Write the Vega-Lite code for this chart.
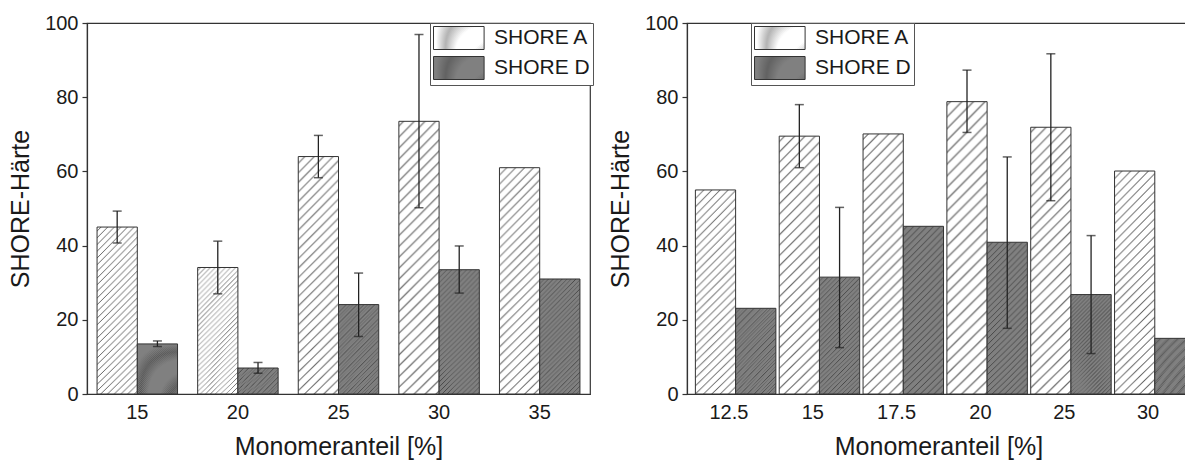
{
  "$schema": "https://vega.github.io/schema/vega-lite/v6.json",
  "padding": {"left": 8, "top": 12, "right": 0, "bottom": 0},
  "background": "white",
  "params": [
    {"name": "gA", "value": {"gradient": "radial", "x1": -20, "y1": -20, "r1": 28.284, "x2": -20, "y2": -20, "r2": 29.698, "stops": [
          {"offset": 0, "color": "#fff"}, {"offset": 0.003, "color": "#666"}, {"offset": 0.006, "color": "#fff"},
          {"offset": 0.02, "color": "#fff"}, {"offset": 0.023, "color": "#666"}, {"offset": 0.026, "color": "#fff"},
          {"offset": 0.04, "color": "#fff"}, {"offset": 0.043, "color": "#666"}, {"offset": 0.046, "color": "#fff"},
          {"offset": 0.06, "color": "#fff"}, {"offset": 0.063, "color": "#666"}, {"offset": 0.066, "color": "#fff"},
          {"offset": 0.08, "color": "#fff"}, {"offset": 0.083, "color": "#666"}, {"offset": 0.086, "color": "#fff"},
          {"offset": 0.1, "color": "#fff"}, {"offset": 0.103, "color": "#666"}, {"offset": 0.106, "color": "#fff"},
          {"offset": 0.12, "color": "#fff"}, {"offset": 0.123, "color": "#666"}, {"offset": 0.126, "color": "#fff"},
          {"offset": 0.14, "color": "#fff"}, {"offset": 0.143, "color": "#666"}, {"offset": 0.146, "color": "#fff"},
          {"offset": 0.16, "color": "#fff"}, {"offset": 0.163, "color": "#666"}, {"offset": 0.166, "color": "#fff"},
          {"offset": 0.18, "color": "#fff"}, {"offset": 0.183, "color": "#666"}, {"offset": 0.186, "color": "#fff"},
          {"offset": 0.2, "color": "#fff"}, {"offset": 0.203, "color": "#666"}, {"offset": 0.206, "color": "#fff"},
          {"offset": 0.22, "color": "#fff"}, {"offset": 0.223, "color": "#666"}, {"offset": 0.226, "color": "#fff"},
          {"offset": 0.24, "color": "#fff"}, {"offset": 0.243, "color": "#666"}, {"offset": 0.246, "color": "#fff"},
          {"offset": 0.26, "color": "#fff"}, {"offset": 0.263, "color": "#666"}, {"offset": 0.266, "color": "#fff"},
          {"offset": 0.28, "color": "#fff"}, {"offset": 0.283, "color": "#666"}, {"offset": 0.286, "color": "#fff"},
          {"offset": 0.3, "color": "#fff"}, {"offset": 0.303, "color": "#666"}, {"offset": 0.306, "color": "#fff"},
          {"offset": 0.32, "color": "#fff"}, {"offset": 0.323, "color": "#666"}, {"offset": 0.326, "color": "#fff"},
          {"offset": 0.34, "color": "#fff"}, {"offset": 0.343, "color": "#666"}, {"offset": 0.346, "color": "#fff"},
          {"offset": 0.36, "color": "#fff"}, {"offset": 0.363, "color": "#666"}, {"offset": 0.366, "color": "#fff"},
          {"offset": 0.38, "color": "#fff"}, {"offset": 0.383, "color": "#666"}, {"offset": 0.386, "color": "#fff"},
          {"offset": 0.4, "color": "#fff"}, {"offset": 0.403, "color": "#666"}, {"offset": 0.406, "color": "#fff"},
          {"offset": 0.42, "color": "#fff"}, {"offset": 0.423, "color": "#666"}, {"offset": 0.426, "color": "#fff"},
          {"offset": 0.44, "color": "#fff"}, {"offset": 0.443, "color": "#666"}, {"offset": 0.446, "color": "#fff"},
          {"offset": 0.46, "color": "#fff"}, {"offset": 0.463, "color": "#666"}, {"offset": 0.466, "color": "#fff"},
          {"offset": 0.48, "color": "#fff"}, {"offset": 0.483, "color": "#666"}, {"offset": 0.486, "color": "#fff"},
          {"offset": 0.5, "color": "#fff"}, {"offset": 0.503, "color": "#666"}, {"offset": 0.506, "color": "#fff"},
          {"offset": 0.52, "color": "#fff"}, {"offset": 0.523, "color": "#666"}, {"offset": 0.526, "color": "#fff"},
          {"offset": 0.54, "color": "#fff"}, {"offset": 0.543, "color": "#666"}, {"offset": 0.546, "color": "#fff"},
          {"offset": 0.56, "color": "#fff"}, {"offset": 0.563, "color": "#666"}, {"offset": 0.566, "color": "#fff"},
          {"offset": 0.58, "color": "#fff"}, {"offset": 0.583, "color": "#666"}, {"offset": 0.586, "color": "#fff"},
          {"offset": 0.6, "color": "#fff"}, {"offset": 0.603, "color": "#666"}, {"offset": 0.606, "color": "#fff"},
          {"offset": 0.62, "color": "#fff"}, {"offset": 0.623, "color": "#666"}, {"offset": 0.626, "color": "#fff"},
          {"offset": 0.64, "color": "#fff"}, {"offset": 0.643, "color": "#666"}, {"offset": 0.646, "color": "#fff"},
          {"offset": 0.66, "color": "#fff"}, {"offset": 0.663, "color": "#666"}, {"offset": 0.666, "color": "#fff"},
          {"offset": 0.68, "color": "#fff"}, {"offset": 0.683, "color": "#666"}, {"offset": 0.686, "color": "#fff"},
          {"offset": 0.7, "color": "#fff"}, {"offset": 0.703, "color": "#666"}, {"offset": 0.706, "color": "#fff"},
          {"offset": 0.72, "color": "#fff"}, {"offset": 0.723, "color": "#666"}, {"offset": 0.726, "color": "#fff"},
          {"offset": 0.74, "color": "#fff"}, {"offset": 0.743, "color": "#666"}, {"offset": 0.746, "color": "#fff"},
          {"offset": 0.76, "color": "#fff"}, {"offset": 0.763, "color": "#666"}, {"offset": 0.766, "color": "#fff"},
          {"offset": 0.78, "color": "#fff"}, {"offset": 0.783, "color": "#666"}, {"offset": 0.786, "color": "#fff"},
          {"offset": 0.8, "color": "#fff"}, {"offset": 0.803, "color": "#666"}, {"offset": 0.806, "color": "#fff"},
          {"offset": 0.82, "color": "#fff"}, {"offset": 0.823, "color": "#666"}, {"offset": 0.826, "color": "#fff"},
          {"offset": 0.84, "color": "#fff"}, {"offset": 0.843, "color": "#666"}, {"offset": 0.846, "color": "#fff"},
          {"offset": 0.86, "color": "#fff"}, {"offset": 0.863, "color": "#666"}, {"offset": 0.866, "color": "#fff"},
          {"offset": 0.88, "color": "#fff"}, {"offset": 0.883, "color": "#666"}, {"offset": 0.886, "color": "#fff"},
          {"offset": 0.9, "color": "#fff"}, {"offset": 0.903, "color": "#666"}, {"offset": 0.906, "color": "#fff"},
          {"offset": 0.92, "color": "#fff"}, {"offset": 0.923, "color": "#666"}, {"offset": 0.926, "color": "#fff"},
          {"offset": 0.94, "color": "#fff"}, {"offset": 0.943, "color": "#666"}, {"offset": 0.946, "color": "#fff"},
          {"offset": 0.96, "color": "#fff"}, {"offset": 0.963, "color": "#666"}, {"offset": 0.966, "color": "#fff"},
          {"offset": 0.98, "color": "#fff"}, {"offset": 0.983, "color": "#666"}, {"offset": 0.986, "color": "#fff"},
          {"offset": 1, "color": "#fff"}
        ]}},
    {"name": "gD", "value": {"gradient": "radial", "x1": -20, "y1": -20, "r1": 28.284, "x2": -20, "y2": -20, "r2": 29.698, "stops": [
          {"offset": 0, "color": "#808080"}, {"offset": 0.003, "color": "#444"}, {"offset": 0.006, "color": "#808080"},
          {"offset": 0.02, "color": "#808080"}, {"offset": 0.023, "color": "#444"}, {"offset": 0.026, "color": "#808080"},
          {"offset": 0.04, "color": "#808080"}, {"offset": 0.043, "color": "#444"}, {"offset": 0.046, "color": "#808080"},
          {"offset": 0.06, "color": "#808080"}, {"offset": 0.063, "color": "#444"}, {"offset": 0.066, "color": "#808080"},
          {"offset": 0.08, "color": "#808080"}, {"offset": 0.083, "color": "#444"}, {"offset": 0.086, "color": "#808080"},
          {"offset": 0.1, "color": "#808080"}, {"offset": 0.103, "color": "#444"}, {"offset": 0.106, "color": "#808080"},
          {"offset": 0.12, "color": "#808080"}, {"offset": 0.123, "color": "#444"}, {"offset": 0.126, "color": "#808080"},
          {"offset": 0.14, "color": "#808080"}, {"offset": 0.143, "color": "#444"}, {"offset": 0.146, "color": "#808080"},
          {"offset": 0.16, "color": "#808080"}, {"offset": 0.163, "color": "#444"}, {"offset": 0.166, "color": "#808080"},
          {"offset": 0.18, "color": "#808080"}, {"offset": 0.183, "color": "#444"}, {"offset": 0.186, "color": "#808080"},
          {"offset": 0.2, "color": "#808080"}, {"offset": 0.203, "color": "#444"}, {"offset": 0.206, "color": "#808080"},
          {"offset": 0.22, "color": "#808080"}, {"offset": 0.223, "color": "#444"}, {"offset": 0.226, "color": "#808080"},
          {"offset": 0.24, "color": "#808080"}, {"offset": 0.243, "color": "#444"}, {"offset": 0.246, "color": "#808080"},
          {"offset": 0.26, "color": "#808080"}, {"offset": 0.263, "color": "#444"}, {"offset": 0.266, "color": "#808080"},
          {"offset": 0.28, "color": "#808080"}, {"offset": 0.283, "color": "#444"}, {"offset": 0.286, "color": "#808080"},
          {"offset": 0.3, "color": "#808080"}, {"offset": 0.303, "color": "#444"}, {"offset": 0.306, "color": "#808080"},
          {"offset": 0.32, "color": "#808080"}, {"offset": 0.323, "color": "#444"}, {"offset": 0.326, "color": "#808080"},
          {"offset": 0.34, "color": "#808080"}, {"offset": 0.343, "color": "#444"}, {"offset": 0.346, "color": "#808080"},
          {"offset": 0.36, "color": "#808080"}, {"offset": 0.363, "color": "#444"}, {"offset": 0.366, "color": "#808080"},
          {"offset": 0.38, "color": "#808080"}, {"offset": 0.383, "color": "#444"}, {"offset": 0.386, "color": "#808080"},
          {"offset": 0.4, "color": "#808080"}, {"offset": 0.403, "color": "#444"}, {"offset": 0.406, "color": "#808080"},
          {"offset": 0.42, "color": "#808080"}, {"offset": 0.423, "color": "#444"}, {"offset": 0.426, "color": "#808080"},
          {"offset": 0.44, "color": "#808080"}, {"offset": 0.443, "color": "#444"}, {"offset": 0.446, "color": "#808080"},
          {"offset": 0.46, "color": "#808080"}, {"offset": 0.463, "color": "#444"}, {"offset": 0.466, "color": "#808080"},
          {"offset": 0.48, "color": "#808080"}, {"offset": 0.483, "color": "#444"}, {"offset": 0.486, "color": "#808080"},
          {"offset": 0.5, "color": "#808080"}, {"offset": 0.503, "color": "#444"}, {"offset": 0.506, "color": "#808080"},
          {"offset": 0.52, "color": "#808080"}, {"offset": 0.523, "color": "#444"}, {"offset": 0.526, "color": "#808080"},
          {"offset": 0.54, "color": "#808080"}, {"offset": 0.543, "color": "#444"}, {"offset": 0.546, "color": "#808080"},
          {"offset": 0.56, "color": "#808080"}, {"offset": 0.563, "color": "#444"}, {"offset": 0.566, "color": "#808080"},
          {"offset": 0.58, "color": "#808080"}, {"offset": 0.583, "color": "#444"}, {"offset": 0.586, "color": "#808080"},
          {"offset": 0.6, "color": "#808080"}, {"offset": 0.603, "color": "#444"}, {"offset": 0.606, "color": "#808080"},
          {"offset": 0.62, "color": "#808080"}, {"offset": 0.623, "color": "#444"}, {"offset": 0.626, "color": "#808080"},
          {"offset": 0.64, "color": "#808080"}, {"offset": 0.643, "color": "#444"}, {"offset": 0.646, "color": "#808080"},
          {"offset": 0.66, "color": "#808080"}, {"offset": 0.663, "color": "#444"}, {"offset": 0.666, "color": "#808080"},
          {"offset": 0.68, "color": "#808080"}, {"offset": 0.683, "color": "#444"}, {"offset": 0.686, "color": "#808080"},
          {"offset": 0.7, "color": "#808080"}, {"offset": 0.703, "color": "#444"}, {"offset": 0.706, "color": "#808080"},
          {"offset": 0.72, "color": "#808080"}, {"offset": 0.723, "color": "#444"}, {"offset": 0.726, "color": "#808080"},
          {"offset": 0.74, "color": "#808080"}, {"offset": 0.743, "color": "#444"}, {"offset": 0.746, "color": "#808080"},
          {"offset": 0.76, "color": "#808080"}, {"offset": 0.763, "color": "#444"}, {"offset": 0.766, "color": "#808080"},
          {"offset": 0.78, "color": "#808080"}, {"offset": 0.783, "color": "#444"}, {"offset": 0.786, "color": "#808080"},
          {"offset": 0.8, "color": "#808080"}, {"offset": 0.803, "color": "#444"}, {"offset": 0.806, "color": "#808080"},
          {"offset": 0.82, "color": "#808080"}, {"offset": 0.823, "color": "#444"}, {"offset": 0.826, "color": "#808080"},
          {"offset": 0.84, "color": "#808080"}, {"offset": 0.843, "color": "#444"}, {"offset": 0.846, "color": "#808080"},
          {"offset": 0.86, "color": "#808080"}, {"offset": 0.863, "color": "#444"}, {"offset": 0.866, "color": "#808080"},
          {"offset": 0.88, "color": "#808080"}, {"offset": 0.883, "color": "#444"}, {"offset": 0.886, "color": "#808080"},
          {"offset": 0.9, "color": "#808080"}, {"offset": 0.903, "color": "#444"}, {"offset": 0.906, "color": "#808080"},
          {"offset": 0.92, "color": "#808080"}, {"offset": 0.923, "color": "#444"}, {"offset": 0.926, "color": "#808080"},
          {"offset": 0.94, "color": "#808080"}, {"offset": 0.943, "color": "#444"}, {"offset": 0.946, "color": "#808080"},
          {"offset": 0.96, "color": "#808080"}, {"offset": 0.963, "color": "#444"}, {"offset": 0.966, "color": "#808080"},
          {"offset": 0.98, "color": "#808080"}, {"offset": 0.983, "color": "#444"}, {"offset": 0.986, "color": "#808080"},
          {"offset": 1, "color": "#808080"}
        ]}}
  ],
  "datasets": {
    "left": [
      {"conc": "15", "series": "SHORE A", "value": 45.0, "lo": 40.7, "hi": 49.3},
      {"conc": "15", "series": "SHORE D", "value": 13.5, "lo": 12.8, "hi": 14.3},
      {"conc": "20", "series": "SHORE A", "value": 34.1, "lo": 27.0, "hi": 41.2},
      {"conc": "20", "series": "SHORE D", "value": 7.0, "lo": 5.6, "hi": 8.5},
      {"conc": "25", "series": "SHORE A", "value": 64.0, "lo": 58.3, "hi": 69.7},
      {"conc": "25", "series": "SHORE D", "value": 24.1, "lo": 15.5, "hi": 32.6},
      {"conc": "30", "series": "SHORE A", "value": 73.5, "lo": 50.2, "hi": 96.9},
      {"conc": "30", "series": "SHORE D", "value": 33.5, "lo": 27.2, "hi": 39.9},
      {"conc": "35", "series": "SHORE A", "value": 61.0, "lo": null, "hi": null},
      {"conc": "35", "series": "SHORE D", "value": 31.0, "lo": null, "hi": null}
    ],
    "right": [
      {"conc": "12.5", "series": "SHORE A", "value": 55.0, "lo": null, "hi": null},
      {"conc": "12.5", "series": "SHORE D", "value": 23.1, "lo": null, "hi": null},
      {"conc": "15", "series": "SHORE A", "value": 69.5, "lo": 61.0, "hi": 78.0},
      {"conc": "15", "series": "SHORE D", "value": 31.5, "lo": 12.5, "hi": 50.3},
      {"conc": "17.5", "series": "SHORE A", "value": 70.1, "lo": null, "hi": null},
      {"conc": "17.5", "series": "SHORE D", "value": 45.2, "lo": null, "hi": null},
      {"conc": "20", "series": "SHORE A", "value": 78.8, "lo": 70.5, "hi": 87.3},
      {"conc": "20", "series": "SHORE D", "value": 40.9, "lo": 17.7, "hi": 63.9},
      {"conc": "25", "series": "SHORE A", "value": 71.9, "lo": 52.1, "hi": 91.7},
      {"conc": "25", "series": "SHORE D", "value": 26.8, "lo": 10.9, "hi": 42.7},
      {"conc": "30", "series": "SHORE A", "value": 60.1, "lo": null, "hi": null},
      {"conc": "30", "series": "SHORE D", "value": 15.0, "lo": null, "hi": null}
    ]
  },
  "spacing": 13,
  "resolve": {"scale": {"x": "independent", "stroke": "independent"}, "legend": {"stroke": "independent"}},
  "hconcat": [
    {
      "width": 503,
      "height": 371,
      "data": {"name": "left"},
      "encoding": {
        "x": {"field": "conc", "type": "nominal", "sort": null, "title": "Monomeranteil [%]", "scale": {"paddingInner": 0.2, "paddingOuter": 0.1}},
        "xOffset": {"field": "series", "type": "nominal", "scale": {"paddingInner": 0, "paddingOuter": 0}}
      },
      "layer": [
        {
          "mark": {"type": "bar", "strokeWidth": 1, "fill": {"expr": "(datum.series || datum.value) === 'SHORE A' ? gA : gD"}},
          "encoding": {
            "y": {"field": "value", "type": "quantitative", "title": "SHORE-Härte", "scale": {"domain": [0, 100], "nice": false},
              "axis": {"values": [0, 10, 20, 30, 40, 50, 60, 70, 80, 90, 100], "labelExpr": "datum.value % 20 === 0 ? datum.label : ''",
                "tickSize": {"condition": {"test": "datum.value % 20 === 0", "value": 5}, "value": -5}, "labelPadding": 4, "titlePadding": 11, "labelOverlap": false}},
            "stroke": {"field": "series", "type": "nominal", "sort": null, "scale": {"range": ["#333", "#333"]},
              "legend": {"title": null, "orient": "none", "legendX": 343, "legendY": 0, "direction": "vertical", "symbolType": "M-1,-1H3.4V1H-1Z", "symbolSize": 529, "symbolStrokeWidth": 1, "labelFontSize": 21, "labelFont": "Liberation Sans", "labelColor": "#1a1a1a", "labelOffset": 37, "strokeColor": "#555", "fillColor": "white", "padding": 3, "rowPadding": 2}}
          }
        },
        {
          "mark": {"type": "rule", "color": "#222", "strokeWidth": 1.3},
          "encoding": {"y": {"field": "lo", "type": "quantitative", "title": "SHORE-Härte"}, "y2": {"field": "hi"}}
        },
        {
          "mark": {"type": "tick", "color": "#222", "thickness": 1.5, "size": 9},
          "encoding": {"y": {"field": "lo", "type": "quantitative", "title": "SHORE-Härte"}}
        },
        {
          "mark": {"type": "tick", "color": "#222", "thickness": 1.5, "size": 9},
          "encoding": {"y": {"field": "hi", "type": "quantitative", "title": "SHORE-Härte"}}
        }
      ]
    },
    {
      "width": 503,
      "height": 371,
      "data": {"name": "right"},
      "encoding": {
        "x": {"field": "conc", "type": "nominal", "sort": null, "title": "Monomeranteil [%]", "scale": {"paddingInner": 0.2, "paddingOuter": 0.1}},
        "xOffset": {"field": "series", "type": "nominal", "scale": {"paddingInner": 0, "paddingOuter": 0}}
      },
      "layer": [
        {
          "mark": {"type": "bar", "strokeWidth": 1, "fill": {"expr": "(datum.series || datum.value) === 'SHORE A' ? gA : gD"}},
          "encoding": {
            "y": {"field": "value", "type": "quantitative", "title": "SHORE-Härte", "scale": {"domain": [0, 100], "nice": false},
              "axis": {"values": [0, 10, 20, 30, 40, 50, 60, 70, 80, 90, 100], "labelExpr": "datum.value % 20 === 0 ? datum.label : ''",
                "tickSize": {"condition": {"test": "datum.value % 20 === 0", "value": 5}, "value": -5}, "labelPadding": 4, "titlePadding": 11, "labelOverlap": false}},
            "stroke": {"field": "series", "type": "nominal", "sort": null, "scale": {"range": ["#333", "#333"]},
              "legend": {"title": null, "orient": "none", "legendX": 64, "legendY": 0, "direction": "vertical", "symbolType": "M-1,-1H3.4V1H-1Z", "symbolSize": 529, "symbolStrokeWidth": 1, "labelFontSize": 21, "labelFont": "Liberation Sans", "labelColor": "#1a1a1a", "labelOffset": 37, "strokeColor": "#555", "fillColor": "white", "padding": 3, "rowPadding": 2}}
          }
        },
        {
          "mark": {"type": "rule", "color": "#222", "strokeWidth": 1.3},
          "encoding": {"y": {"field": "lo", "type": "quantitative", "title": "SHORE-Härte"}, "y2": {"field": "hi"}}
        },
        {
          "mark": {"type": "tick", "color": "#222", "thickness": 1.5, "size": 9},
          "encoding": {"y": {"field": "lo", "type": "quantitative", "title": "SHORE-Härte"}}
        },
        {
          "mark": {"type": "tick", "color": "#222", "thickness": 1.5, "size": 9},
          "encoding": {"y": {"field": "hi", "type": "quantitative", "title": "SHORE-Härte"}}
        }
      ]
    }
  ],
  "config": {
    "font": "Liberation Sans",
    "view": {"stroke": "#333", "strokeWidth": 1.2},
    "axis": {"domainColor": "#333", "domainWidth": 1.2, "labelFont": "Liberation Sans", "labelFontSize": 20, "labelColor": "#1a1a1a", "titleFont": "Liberation Sans", "titleFontSize": 25, "titleFontWeight": "normal", "titleColor": "#1a1a1a", "grid": false, "tickColor": "#333", "tickWidth": 1.2},
    "axisX": {"ticks": false, "labelAngle": 0, "labelPadding": 8, "titlePadding": 12}
  }
}
